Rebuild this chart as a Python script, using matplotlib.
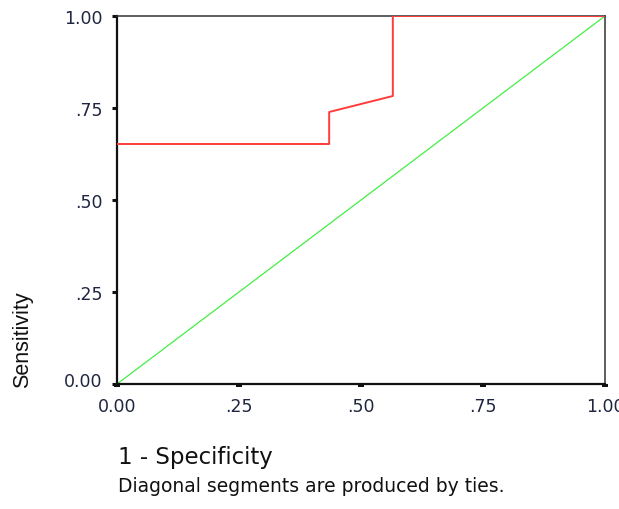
import matplotlib
matplotlib.use("Agg")
import matplotlib.pyplot as plt
import matplotlib.transforms as mtransforms

# ROC curve points (1 - specificity, sensitivity)
fpr = [0.0, 10/23, 10/23, 13/23, 13/23, 1.0]
tpr = [15/23, 15/23, 17/23, 18/23, 1.0, 1.0]
ref_x = [0.0, 1.0]
ref_y = [0.0, 1.0]

ticks = [0.0, 0.25, 0.5, 0.75, 1.0]
tick_labels = ["0.00", ".25", ".50", ".75", "1.00"]

plt.rcParams['font.family'] = ['DejaVu Sans']
txt_col = '#1f2640'

fig = plt.figure(figsize=(6.19, 5.10), dpi=100)
ax = fig.add_axes([117/619, 1-385/510, 488/619, 368/510])

ax.plot(ref_x, ref_y, color='#44ee44', lw=0.9, zorder=2)
ax.plot(fpr, tpr, color='#ff3b3b', lw=1.4, zorder=3)

ax.set_xlim(0, 1)
ax.set_ylim(0, 1)
ax.set_xticks(ticks)
ax.set_xticklabels(tick_labels)
ax.set_yticks(ticks)
ax.set_yticklabels(tick_labels)

for s in ['left', 'bottom']:
    ax.spines[s].set_linewidth(1.6)
    ax.spines[s].set_color('#111111')
for s in ['top', 'right']:
    ax.spines[s].set_linewidth(1.1)
    ax.spines[s].set_color('#333333')

ax.tick_params(axis='x', direction='out', length=2.2, width=4.3, pad=7,
               labelsize=12.5, labelcolor=txt_col, color='#111111')
ax.tick_params(axis='y', direction='out', length=3.8, width=2.2, pad=6.5,
               labelsize=12.5, labelcolor=txt_col, color='#111111')

# SPSS nudges the bottom y label up a little
lab0 = ax.get_yticklabels()[0]
lab0.set_transform(lab0.get_transform() +
                   mtransforms.ScaledTranslation(0, 5/100, fig.dpi_scale_trans))

fig.text(23/619, 1-340/510, "Sensitivity", rotation=90, ha='center', va='center',
         fontsize=15.5, color='#111111', family=['Liberation Sans'])
fig.text(118/619, 1-464/510, "1 - Specificity", ha='left', va='baseline',
         fontsize=16.5, color='#111111')
fig.text(118/619, 1-492/510, "Diagonal segments are produced by ties.", ha='left',
         va='baseline', fontsize=13.5, color='#111111')

fig.savefig("out.png", dpi=100)
